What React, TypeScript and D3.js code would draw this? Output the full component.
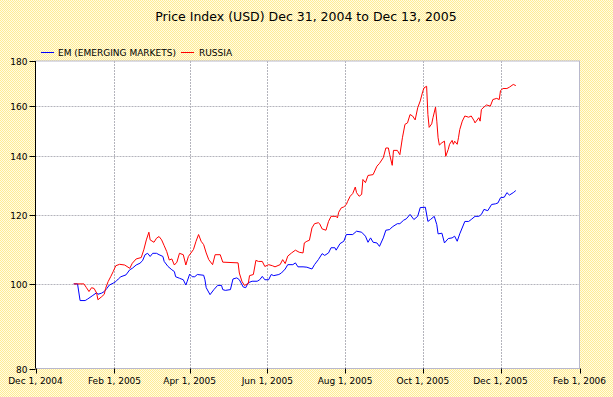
import React from "react";
import * as d3 from "d3";

const startDate = new Date(2004, 11, 31);

// days since Dec 31, 2004
const emDays = [0,3,5,9,11,15,18,19,22,24,26,28,31,33,35,37,41,44,46,49,52,54,56,58,60,62,65,67,70,71,74,77,79,80,83,86,88,89,91,93,95,97,102,103,104,107,110,113,116,117,119,123,125,128,130,133,135,137,140,144,146,148,150,153,155,157,161,163,166,168,172,174,176,180,183,187,189,192,195,197,200,202,205,206,209,212,214,219,222,226,229,231,233,235,238,240,243,245,248,250,254,256,259,261,264,267,270,272,276,278,280,283,285,286,289,291,294,297,299,301,303,307,310,312,315,318,320,322,325,328,331,333,335,338,340,342,345,347];
const emValues = [100,100,95.7,95.7,96.1,97.0,97.7,97.3,97.6,98.0,98.8,99.7,100.2,100.6,101.3,101.9,102.4,103.8,104.2,105.1,105.6,106.3,108.0,108.4,107.5,108.4,108.4,108.0,107.5,106.1,104.7,103.8,103.3,101.9,101.5,101.1,99.7,100.6,102.6,101.9,101.9,102.5,102.3,101.1,99.0,97.2,98.5,99.6,99.6,98.5,98.3,98.5,101.3,101.6,101.1,99.2,99.0,100.3,100.7,100.7,101.1,102.0,101.1,101.1,102.5,102.2,102.5,102.9,104.0,105.2,105.2,105.7,104.6,104.6,104.5,104.0,105.2,106.6,108.3,107.8,108.5,110.0,110.0,109.3,111.2,111.9,113.9,113.9,114.9,114.6,113.4,111.6,112.9,111.6,111.4,110.4,112.9,115.2,115.4,116.2,117.2,117.2,118.3,118.7,120.1,118.5,119.5,122.3,122.4,117.9,118.5,119.5,116.9,114.1,114.3,111.4,112.7,112.9,113.4,111.9,114.1,117.9,117.9,118.5,119.5,119.5,120.1,121.7,121.3,123.3,123.5,123.8,125.5,125.7,127.2,126.4,127.2,127.9];

const ruDays = [0,3,8,10,12,14,16,18,19,22,24,25,27,29,31,33,36,40,44,46,49,53,55,57,59,60,63,65,67,69,71,73,75,77,79,81,83,86,88,90,94,96,98,100,102,104,106,109,111,115,117,129,130,132,134,137,138,141,143,145,148,150,153,156,158,162,164,166,168,171,174,177,180,181,183,185,187,189,192,193,195,198,200,202,206,207,208,210,212,214,215,217,219,221,222,224,226,227,229,231,235,238,240,243,245,247,248,250,251,254,256,258,260,262,264,266,268,270,272,274,275,277,278,279,281,282,284,285,286,287,289,291,292,294,295,297,298,299,301,302,303,305,307,310,312,314,315,318,319,320,322,324,327,329,332,334,335,337,340,342,345,347];
const ruValues = [100,100,100,99.0,98.0,99.0,98.8,97.6,95.9,96.7,97.3,98.8,100.6,101.9,103.3,104.9,105.3,105.1,104.2,105.6,106.8,107.2,109.4,112.3,114.6,112.3,111.6,112.8,113.3,112.3,110.6,108.9,106.5,106.8,105.1,105.9,108.4,108.0,105.1,107.5,109.5,111.9,113.9,111.9,110.9,108.5,106.6,105.2,108.0,108.0,105.9,105.7,102.9,100.7,99.6,100.1,102.2,102.5,106.4,106.1,106.1,104.7,105.2,104.9,104.6,105.2,106.6,105.5,107.6,108.5,109.3,108.7,108.5,111.4,111.9,112.2,115.9,117.2,117.5,117.2,115.6,115.2,117.9,119.5,119.5,119.0,120.8,122.2,122.5,123.3,124.3,126.0,126.9,129.1,127.2,126.0,126.6,131.7,130.6,133.1,133.4,136.4,137.4,139.5,143.1,143.1,140.6,136.7,142.2,142.2,140.6,147.0,152.3,152.9,156.3,155.7,154.1,159.1,162.0,166.2,167.7,168.4,156.3,151.1,152.5,155.0,159.4,153.6,147.0,144.2,145.1,145.7,140.0,142.6,144.5,146.0,144.5,145.7,144.5,147.0,150.2,153.6,155.7,155.2,155.7,154.0,152.9,155.0,153.6,158.4,159.4,160.3,159.8,162.6,163.1,162.6,166.5,167.4,167.4,168.0,169.2,168.7];

const yTicks = [80, 100, 120, 140, 160, 180];
const xTickDates = [
  new Date(2004, 11, 1), new Date(2005, 1, 1), new Date(2005, 3, 1), new Date(2005, 5, 1),
  new Date(2005, 7, 1), new Date(2005, 9, 1), new Date(2005, 11, 1), new Date(2006, 1, 1),
];
const title = "Price Index (USD) Dec 31, 2004 to Dec 13, 2005";
const seriesNames = ["EM (EMERGING MARKETS)", "RUSSIA"];
const seriesColors = ["#0000ff", "#ff0000"];

const W = 613, H = 397;
const left = 35.5, right = 579.5, top = 61, bottom = 368.5;
const FONT = "DejaVu Sans";

export default function App() {
  const x = d3.scaleTime().domain([xTickDates[0], xTickDates[xTickDates.length - 1]]).range([left, right]);
  const y = d3.scaleLog().domain([80, 180]).range([bottom, top]);
  const fmt = d3.timeFormat("%b %-d, %Y");
  const line = d3.line<[Date, number]>().x(d => x(d[0])).y(d => y(d[1]));
  const em: [Date, number][] = emDays.map((d, i) => [d3.timeDay.offset(startDate, d), emValues[i]]);
  const ru: [Date, number][] = ruDays.map((d, i) => [d3.timeDay.offset(startDate, d), ruValues[i]]);
  const grid = "#b4b4bc";
  return (
    <div style={{ position: "absolute", left: 0, top: 0 }}>
      <svg width={W} height={H} style={{ display: "block" }} fontFamily={FONT}>
        <defs>
          <pattern id="dither" width="2" height="2" patternUnits="userSpaceOnUse">
            <rect width="2" height="2" fill="#fffbe4" />
            <rect width="1" height="1" fill="#ffec94" />
            <rect x="1" y="1" width="1" height="1" fill="#ffec94" />
          </pattern>
        </defs>
        <rect width={W} height={H} fill="url(#dither)" />
        <text x={306} y={21} textAnchor="middle" fontSize={12.5} fill="#000">{title}</text>
        {/* legend */}
        <line x1={41} x2={54} y1={52.5} y2={52.5} stroke={seriesColors[0]} />
        <text x={58} y={56} fontSize={9} fill="#000">{seriesNames[0]}</text>
        <line x1={181} x2={194} y1={52.5} y2={52.5} stroke={seriesColors[1]} />
        <text x={199} y={56} fontSize={9} fill="#000">{seriesNames[1]}</text>
        {/* plot */}
        <rect x={left} y={top} width={right - left} height={bottom - top} fill="#fff" />
        {xTickDates.slice(1, -1).map((d, i) => (
          <line key={"gx" + i} x1={Math.round(x(d)) + 0.5} x2={Math.round(x(d)) + 0.5} y1={top} y2={bottom} stroke={grid} strokeDasharray="2,1" />
        ))}
        {yTicks.slice(1, -1).map((v, i) => (
          <line key={"gy" + i} y1={Math.round(y(v)) + 0.5} y2={Math.round(y(v)) + 0.5} x1={left} x2={right} stroke={grid} strokeDasharray="2,1" />
        ))}
        <rect x={left} y={top} width={right - left} height={bottom - top} fill="none" stroke="#b8b8cc" />
        <path d={line(em) || ""} fill="none" stroke={seriesColors[0]} strokeWidth={1} />
        <path d={line(ru) || ""} fill="none" stroke={seriesColors[1]} strokeWidth={1} />
        {/* axes */}
        <line x1={left} x2={left} y1={top} y2={bottom} stroke="#000" />
        {yTicks.map((v, i) => (
          <g key={"yt" + i}>
            <line x1={left - 6} x2={left} y1={Math.round(y(v)) + 0.5} y2={Math.round(y(v)) + 0.5} stroke="#000" />
            <text x={left - 8} y={Math.round(y(v)) + 4} textAnchor="end" fontSize={9} fill="#000">{v}</text>
          </g>
        ))}
        {xTickDates.map((d, i) => (
          <g key={"xt" + i}>
            <line x1={Math.round(x(d)) + 0.5} x2={Math.round(x(d)) + 0.5} y1={bottom} y2={bottom + 5} stroke="#000" />
            <text x={x(d)} y={384} textAnchor="middle" fontSize={9} fill="#000">{fmt(d)}</text>
          </g>
        ))}
      </svg>
    </div>
  );
}
